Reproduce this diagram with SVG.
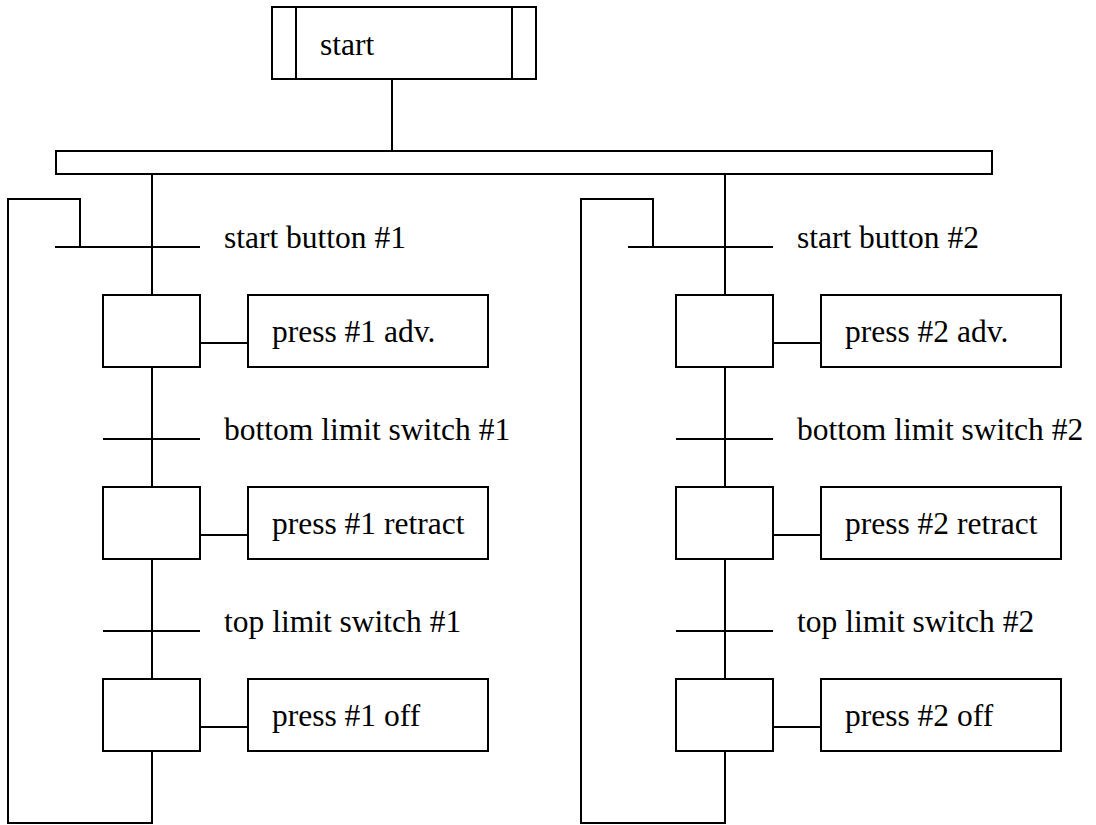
<svg xmlns="http://www.w3.org/2000/svg" width="1096" height="825" viewBox="0 0 1096 825">
<style>
.s{fill:none;stroke:#000;stroke-width:2}
.t{font-family:"Liberation Serif","Times New Roman",serif;font-size:31.5px;fill:#000}
</style>
<rect width="1096" height="825" fill="#fff"/>
<g id="start">
<rect class="s" x="272" y="7" width="264" height="72"/>
<line class="s" x1="296" y1="7" x2="296" y2="79"/>
<line class="s" x1="512" y1="7" x2="512" y2="79"/>
<text class="t" x="320" y="55">start</text>
</g>
<g id="divergence">
<rect class="s" x="56" y="151" width="936" height="23"/>
</g>
<g id="connectors">
<path class="s" d="M392 79V151"/>
<path class="s" d="M152 174V295M152 367V487M152 559V679M152 751V823H8V199H80V247"/>
<path class="s" d="M725 174V295M725 367V487M725 559V679M725 751V823H581V199H653V247"/>
<path class="s" d="M200 343H248M200 535H248M200 727H248"/>
<path class="s" d="M773 343H821M773 535H821M773 727H821"/>
</g>
<g id="t1">
<line class="s" x1="55" y1="247" x2="200" y2="247"/>
<text class="t" x="224" y="248">start button #1</text>
</g>
<g id="t2">
<line class="s" x1="103" y1="439" x2="200" y2="439"/>
<text class="t" x="224" y="440">bottom limit switch #1</text>
</g>
<g id="t3">
<line class="s" x1="103" y1="631" x2="200" y2="631"/>
<text class="t" x="224" y="632">top limit switch #1</text>
</g>
<g id="s1"><rect class="s" x="103" y="295" width="97" height="72"/></g>
<g id="a1"><rect class="s" x="248" y="295" width="240" height="72"/><text class="t" x="272" y="342">press #1 adv.</text></g>
<g id="s2"><rect class="s" x="103" y="487" width="97" height="72"/></g>
<g id="a2"><rect class="s" x="248" y="487" width="240" height="72"/><text class="t" x="272" y="534">press #1 retract</text></g>
<g id="s3"><rect class="s" x="103" y="679" width="97" height="72"/></g>
<g id="a3"><rect class="s" x="248" y="679" width="240" height="72"/><text class="t" x="272" y="726">press #1 off</text></g>
<g id="t4">
<line class="s" x1="628" y1="247" x2="773" y2="247"/>
<text class="t" x="797" y="248">start button #2</text>
</g>
<g id="t5">
<line class="s" x1="676" y1="439" x2="773" y2="439"/>
<text class="t" x="797" y="440">bottom limit switch #2</text>
</g>
<g id="t6">
<line class="s" x1="676" y1="631" x2="773" y2="631"/>
<text class="t" x="797" y="632">top limit switch #2</text>
</g>
<g id="s4"><rect class="s" x="676" y="295" width="97" height="72"/></g>
<g id="a4"><rect class="s" x="821" y="295" width="240" height="72"/><text class="t" x="845" y="342">press #2 adv.</text></g>
<g id="s5"><rect class="s" x="676" y="487" width="97" height="72"/></g>
<g id="a5"><rect class="s" x="821" y="487" width="240" height="72"/><text class="t" x="845" y="534">press #2 retract</text></g>
<g id="s6"><rect class="s" x="676" y="679" width="97" height="72"/></g>
<g id="a6"><rect class="s" x="821" y="679" width="240" height="72"/><text class="t" x="845" y="726">press #2 off</text></g>
</svg>
